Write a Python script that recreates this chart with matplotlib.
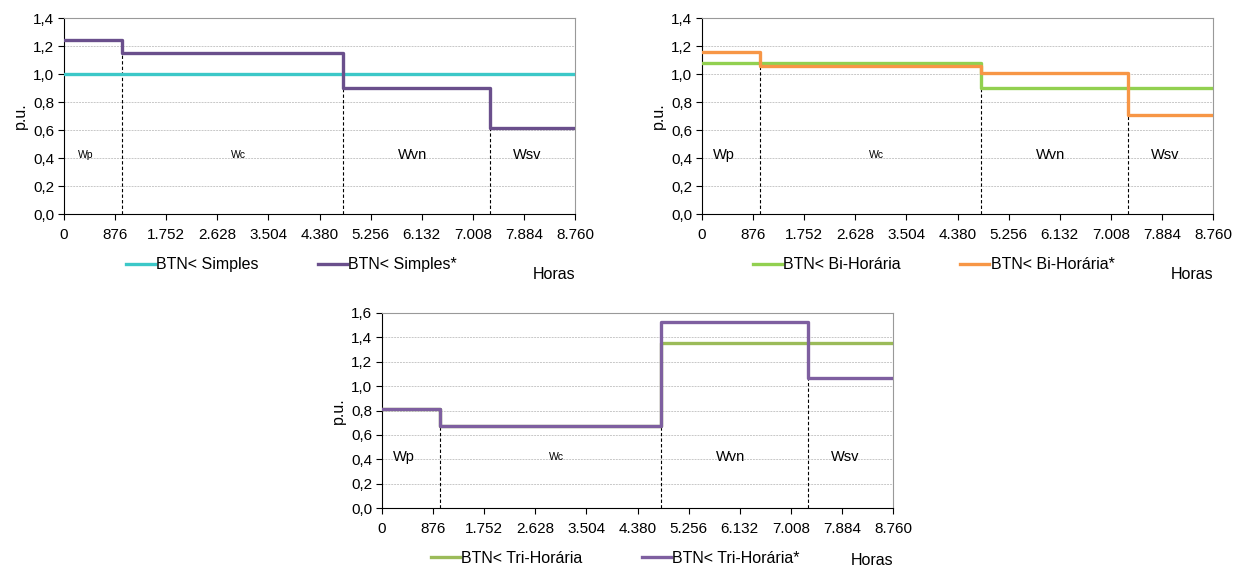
import matplotlib.pyplot as plt
import numpy as np
from matplotlib.ticker import FuncFormatter

plt.rcParams['font.family'] = ['Liberation Sans', 'DejaVu Sans']

# hours where periods change (Wp | Wc | Wvn | Wsv)
breaks = [0, 1000, 4790, 7305, 8760]
periods = ["Wp", "Wc", "Wvn", "Wsv"]
period_x = [370, 2990, 5970, 7940]

simples = [1.0, 1.0, 1.0, 1.0]
simples_new = [1.24, 1.15, 0.90, 0.615]
bi = [1.08, 1.08, 0.90, 0.90]
bi_new = [1.16, 1.06, 1.01, 0.705]
tri = [0.81, 0.67, 1.355, 1.355]
tri_new = [0.81, 0.67, 1.527, 1.067]

xticks = [0, 876, 1752, 2628, 3504, 4380, 5256, 6132, 7008, 7884, 8760]


def fmt_x(v, pos):
    return f"{int(v):,}".replace(",", ".")


def fmt_y(v, pos):
    return f"{v:.1f}".replace(".", ",")


def panel(fig, rect, s1, s2, names, colors, ymax, vl, lab_sizes, leg_x, horas_y):
    ax = fig.add_axes(rect)
    ax.step(breaks, s1 + [s1[-1]], where="post", color=colors[0], lw=2.4,
            label=names[0], zorder=3)
    ax.step(breaks, s2 + [s2[-1]], where="post", color=colors[1], lw=2.4,
            label=names[1], zorder=4)
    for b, h in zip(breaks[1:4], vl):
        ax.plot([b, b], [0, h], color="black", ls=(0, (3, 2)), lw=0.8, zorder=2)
    for x, t, fs in zip(period_x, periods, lab_sizes):
        ax.text(x, 0.42, t, fontsize=fs, ha="center", va="center")
    ax.set_xlim(0, 8760)
    ax.set_ylim(0, ymax)
    ax.set_xticks(xticks)
    ax.set_yticks(np.arange(0, ymax + 0.01, 0.2))
    ax.xaxis.set_major_formatter(FuncFormatter(fmt_x))
    ax.yaxis.set_major_formatter(FuncFormatter(fmt_y))
    ax.tick_params(labelsize=11, direction="out", length=4, width=0.8, pad=3)
    ax.tick_params(axis="x", pad=6)
    ax.grid(axis="y", color="#c8c8c8", ls=(0, (2, 1)), lw=0.7)
    ax.set_axisbelow(True)
    ax.spines["top"].set_color("#999999")
    ax.spines["right"].set_color("#999999")
    ax.set_ylabel("p.u.", fontsize=11.5, labelpad=4)
    ax.legend(loc="upper left", bbox_to_anchor=(leg_x, -0.22), ncol=2,
              frameon=False, fontsize=11.5, handlelength=1.8, handletextpad=0.1,
              columnspacing=3.7, borderaxespad=0, borderpad=0)
    ax.text(0.959, horas_y, "Horas", transform=ax.transAxes, fontsize=11.5,
            ha="center", va="center")
    return ax


fig = plt.figure(figsize=(12.47, 5.72), dpi=100)
W, H = 1247.0, 572.0

panel(fig, [64 / W, 1 - 214 / H, 511 / W, 196 / H], simples, simples_new,
      ["BTN< Simples", "BTN< Simples*"], ["#3cc8c8", "#6a4f8c"], 1.4,
      [1.15, 1.15, 0.90], [7.5, 7.5, 10.5, 10.5], 0.121, -0.31)
panel(fig, [702 / W, 1 - 214 / H, 511 / W, 196 / H], bi, bi_new,
      ["BTN< Bi-Horária", "BTN< Bi-Horária*"], ["#92d050", "#f79646"], 1.4,
      [1.06, 0.90, 0.705], [10.5, 7.5, 10.5, 10.5], 0.100, -0.31)
panel(fig, [382 / W, 1 - 508 / H, 511 / W, 195 / H], tri, tri_new,
      ["BTN< Tri-Horária", "BTN< Tri-Horária*"], ["#9bbb59", "#7e5fa0"], 1.6,
      [0.67, 0.67, 1.067], [10.5, 7.5, 10.5, 10.5], 0.096, -0.27)

fig.savefig("out.png", dpi=100)
